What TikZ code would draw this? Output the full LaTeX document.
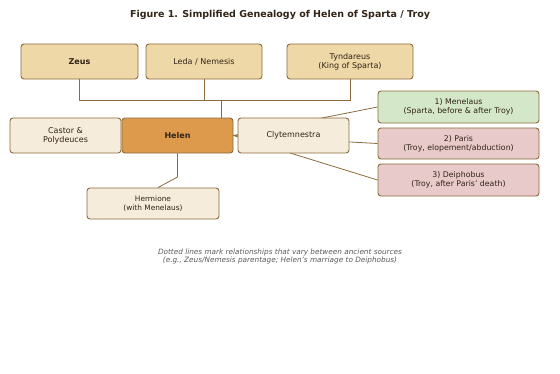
\documentclass[tikz,border=0pt]{standalone}
\usepackage{fontspec}
\setmainfont{DejaVu Sans}
\usepackage{tikz}
\usetikzlibrary{positioning,calc}
\definecolor{LineBrown}{RGB}{140,106,60}
\definecolor{TextBrown}{RGB}{50,36,22}
\definecolor{ParentTan}{RGB}{238,216,168}
\definecolor{KinCream}{RGB}{246,236,220}
\definecolor{HelenOrange}{RGB}{222,154,76}
\definecolor{SpartaGreen}{RGB}{212,231,200}
\definecolor{TroyPink}{RGB}{232,202,202}
\tikzset{
  person/.style={draw=LineBrown,line width=.9pt,rounded corners=3pt,
    align=center,text=TextBrown,font=\fontsize{8}{9}\selectfont,
    minimum height=35pt,inner sep=1pt},
  spouse/.style={person,minimum width=161pt,font=\fontsize{7.8}{8.8}\selectfont},
  link/.style={draw=LineBrown,line width=.8pt}
}
\begin{document}
\begin{tikzpicture}[x=1pt,y=-1pt]
      \useasboundingbox (0,0) rectangle (560,373);
      \node[font=\fontsize{9.5}{11}\bfseries\selectfont,text=TextBrown] (title) at (280,15)
        {Figure 1. Simplified Genealogy of Helen of Sparta / Troy};
      % parents
      \node[person,fill=ParentTan,minimum width=117pt,font=\fontsize{8}{9}\bfseries\selectfont] (zeus) at (79.5,61.5){Zeus};
      \node[person,fill=ParentTan,minimum width=116pt] (leda) at (204,61.5){Leda / Nemesis};
      \node[person,fill=ParentTan,minimum width=126pt] (tyndareus) at (350,61.5){Tyndareus\\(King of Sparta)};
      % siblings
      \node[person,fill=KinCream,minimum width=111pt] (castor) at (65.5,135.5){Castor \&\\Polydeuces};
      \node[person,fill=HelenOrange,minimum width=111pt,font=\fontsize{8}{9}\bfseries\selectfont] (helen) at (177.5,135.5){Helen};
      % husbands
      \node[spouse,fill=SpartaGreen,minimum height=32pt] (menelaus) at (458.5,107){1) Menelaus\\(Sparta, before \& after Troy)};
      \node[spouse,fill=TroyPink,minimum height=31pt] (paris) at (458.5,143.5){2) Paris\\(Troy, elopement/abduction)};
      \node[spouse,fill=TroyPink,minimum height=32pt] (deiphobus) at (458.5,180){3) Deiphobus\\(Troy, after Paris' death)};
      % child
      \node[person,fill=KinCream,minimum width=132pt,minimum height=31pt,font=\fontsize{7.4}{8.5}\selectfont] (hermione) at (153,203.5){Hermione\\(with Menelaus)};
      % lines
      \coordinate (bar) at (221,100);
      \coordinate (bend) at (177.5,177);
      \draw[link] (zeus.south) -- (zeus.south |- bar) -- (tyndareus.south |- bar) -- (tyndareus.south);
      \draw[link] (leda.south) -- (leda.south |- bar);
      \draw[link] (bar) -- (bar |- helen.north);
      \draw[link] (helen.south) -- (bend) -- ([xshift=5pt]hermione.north);
      \foreach \h in {menelaus,paris,deiphobus}
        \draw[link] (helen.east) -- (\h.west);
      \node[person,fill=KinCream,minimum width=111pt] (clytemnestra) at (293.5,135.5){Clytemnestra};
      \node[font=\fontsize{7.3}{8.6}\itshape\selectfont,text=black!65,align=center] (note) at (280,256.5)
        {Dotted lines mark relationships that vary between ancient sources\\(e.g., Zeus/Nemesis parentage; Helen's marriage to Deiphobus)};
    \end{tikzpicture}
\end{document}
